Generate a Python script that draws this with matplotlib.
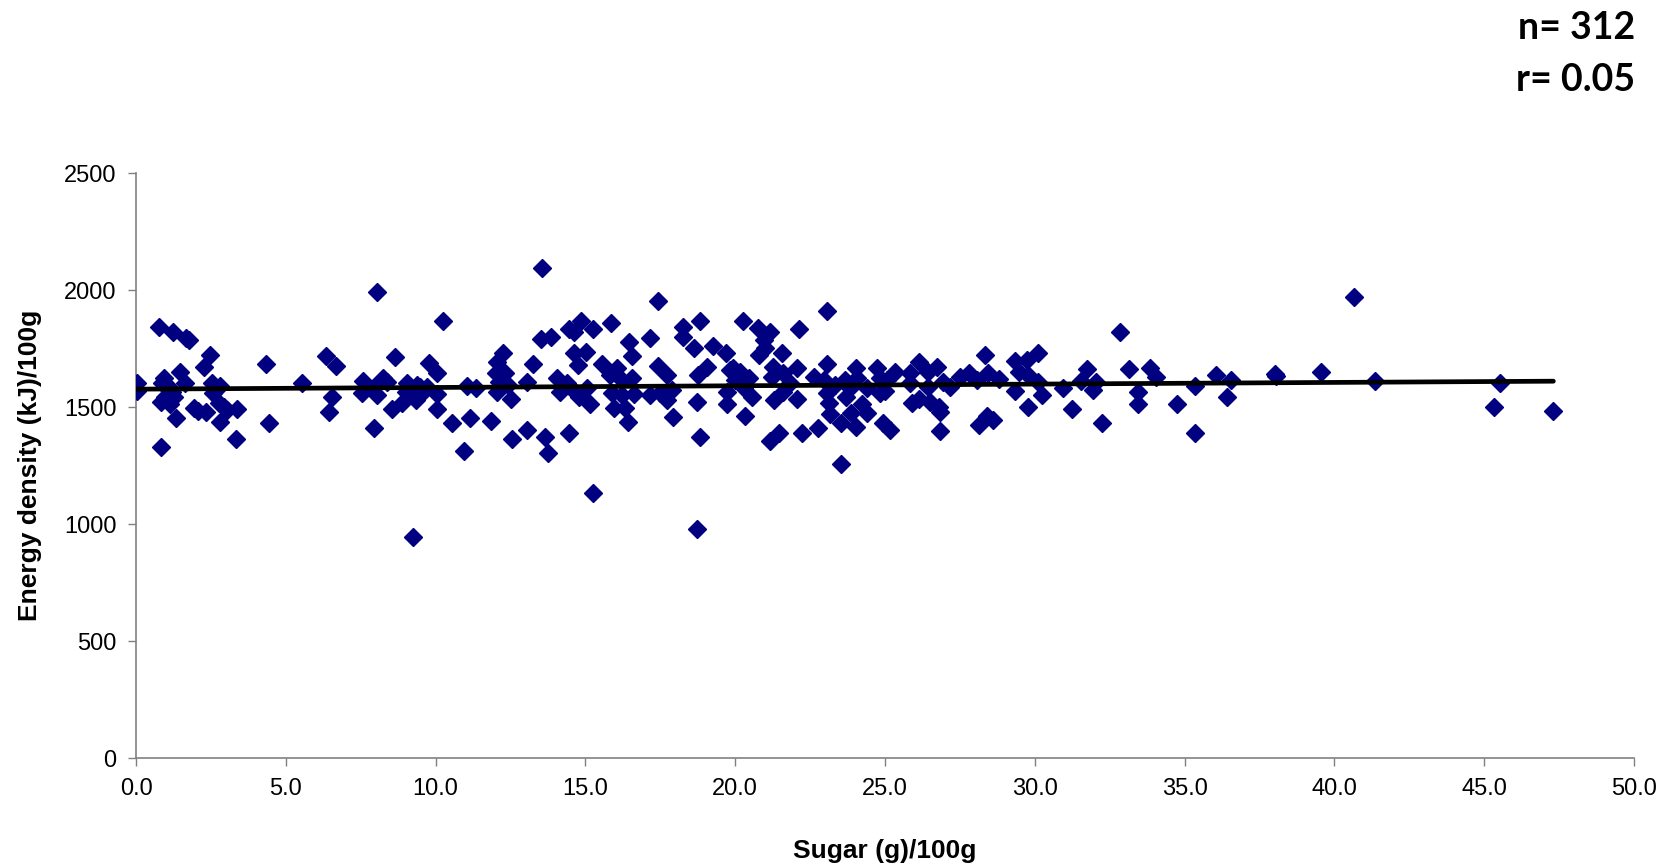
import numpy as np
import matplotlib
matplotlib.use("Agg")
from matplotlib import pyplot as plt

# sugar (g)/100g and energy density (kJ)/100g
sugar = [0.04, 0.04, 0.76, 1.24, 1.67, 1.76, 2.46, 1.46, 2.26, 0.95, 0.87, 1.65, 1.10, 1.21,
         0.82, 0.98, 1.15, 1.26, 1.35, 0.85, 1.93, 2.06, 2.35, 2.54, 2.79, 2.58, 2.76, 2.93,
         3.04, 3.38, 2.80, 3.34, 4.35, 4.45, 5.54, 6.35, 6.66, 6.55, 6.45, 7.57, 7.55, 7.94,
         8.05, 8.25, 8.38, 7.96, 8.05, 8.64, 8.55, 8.88, 9.05, 9.38, 9.00, 9.33, 9.55, 9.25,
         9.77,
         9.49, 10.05, 9.71, 10.05, 10.05, 10.25, 10.55, 10.94, 11.05, 11.36, 11.16, 11.85,
         12.05, 12.25, 12.00, 12.10, 12.33, 12.05, 12.40, 12.52, 12.55, 13.05, 13.25, 13.05,
         13.55, 13.52, 13.85, 13.64, 13.75, 14.05, 14.16, 14.38, 14.44, 14.44, 14.61, 14.86,
         15.25, 14.63, 15.02, 14.74, 14.66, 14.77, 15.05, 15.16, 15.25, 15.55, 15.85, 15.83,
         16.05, 15.89, 15.94, 16.22, 16.33, 16.41, 16.46, 16.55, 16.55, 16.61, 16.22, 17.14,
         17.44, 17.44, 17.74, 17.16, 17.50, 17.72, 17.89, 17.94, 18.25, 18.25, 18.64, 18.83,
         19.06, 18.76, 18.74, 18.83, 18.74, 19.25, 19.70, 19.72, 19.72, 19.84,
         19.94, 20.17, 20.00, 20.45, 20.28, 20.56, 20.33, 20.26, 20.75, 21.15, 20.95, 21.00,
         20.78, 21.56, 22.14, 21.26, 21.22, 21.61, 21.84, 22.06, 21.61, 21.28, 22.06, 21.45,
         21.15, 22.22, 22.75, 23.06, 23.06, 22.64, 22.95, 23.06, 23.12, 23.15, 23.34, 23.67,
         23.70, 23.54, 23.53, 24.04, 24.06, 23.84, 23.86, 24.23, 24.39, 24.04, 24.73, 24.82,
         24.39, 24.82, 25.00, 25.06, 24.95, 25.17, 25.34, 25.82, 25.84, 25.90, 26.15, 26.15,
         26.45, 26.42, 26.51, 26.73, 26.79, 26.84, 26.84, 26.95, 27.17, 27.50, 27.79, 28.06,
         28.34, 28.45, 28.79, 28.40, 28.62, 28.15, 29.34, 29.46, 29.34, 29.73, 29.79, 29.79,
         30.12, 30.12, 30.23, 30.93, 31.23, 31.73, 31.53, 32.05, 31.93, 32.24, 32.85, 33.13,
         33.46, 33.44, 33.85, 34.05, 34.74, 35.35, 35.35, 36.05, 36.54, 36.43, 38.02, 38.05,
         39.54, 40.65, 41.36, 45.53, 45.34, 47.31]
energy = [1605, 1571, 1841, 1823, 1794, 1787, 1721, 1652, 1673, 1623, 1602, 1605, 1588, 1566,
          1524, 1545, 1514, 1545, 1452, 1331, 1498, 1485, 1481, 1605, 1591, 1559, 1516, 1502,
          1487, 1492, 1438, 1362, 1683, 1434, 1605, 1719, 1674, 1542, 1481, 1613, 1562, 1410,
          1993, 1623, 1609, 1588, 1552, 1713, 1491, 1516, 1605, 1595, 1566, 1531, 1559, 947,
          1690,
          1588, 1645, 1588, 1557, 1492, 1868, 1434, 1313, 1592, 1581, 1452, 1442,
          1694, 1733, 1645, 1609, 1645, 1566, 1595, 1535, 1363, 1609, 1683, 1403,
          2093, 1791, 1801, 1374, 1303, 1623, 1566, 1602, 1391, 1833, 1823, 1866,
          1833, 1733, 1737, 1680, 1566, 1545, 1583, 1514, 1132, 1683, 1858, 1637,
          1666, 1559, 1495, 1616, 1495, 1438, 1777, 1720, 1623, 1557, 1552, 1794,
          1954, 1676, 1637, 1552, 1559, 1531, 1573, 1460, 1841, 1801, 1754, 1868,
          1673, 1637, 1521, 1374, 978, 1761, 1733, 1566, 1514, 1659,
          1666, 1652, 1616, 1623, 1581, 1545, 1463, 1866, 1837, 1823, 1787, 1751,
          1723, 1733, 1833, 1673, 1631, 1645, 1602, 1666, 1566, 1531, 1535, 1391,
          1356, 1391, 1413, 1912, 1683, 1631, 1616, 1559, 1516, 1471, 1595, 1616,
          1545, 1434, 1257, 1666, 1623, 1581, 1474, 1514, 1474, 1414, 1666, 1623,
          1581, 1559, 1571, 1616, 1431, 1403, 1652, 1645, 1602, 1516, 1694, 1535,
          1652, 1588, 1524, 1673, 1502, 1481, 1399, 1609, 1588, 1627, 1645, 1616,
          1723, 1645, 1620, 1463, 1446, 1424, 1698, 1652, 1571, 1701, 1637, 1502,
          1733, 1609, 1552, 1583, 1492, 1663, 1613, 1609, 1573, 1431, 1823, 1663,
          1564, 1514, 1666, 1631, 1514, 1592, 1391, 1636, 1615, 1542, 1643, 1634,
          1652, 1972, 1613, 1603, 1502, 1484]

# linear trend line as drawn on the chart (x from 0 to the largest sugar value)
trend_x = [0.0, 47.31]
trend_y = [1577, 1611]

x_ticks = [0, 5, 10, 15, 20, 25, 30, 35, 40, 45, 50]
y_ticks = [0, 500, 1000, 1500, 2000, 2500]

plt.rcParams['font.family'] = ['Liberation Sans', 'DejaVu Sans']

fig = plt.figure(figsize=(16.75, 8.63), dpi=100)
ax = fig.add_axes([0.0812, 0.1212, 0.8943, 0.6783])

ax.plot(sugar, energy, linestyle='none', marker='D', markersize=8.8,
        color='#000080', markeredgecolor='#000080', zorder=3)
ax.plot(trend_x, trend_y, color='black', linewidth=3.4, solid_capstyle='round', zorder=4)

ax.set_xlim(0, 50)
ax.set_ylim(0, 2500)
ax.set_xticks(x_ticks)
ax.set_xticklabels(["%.1f" % v for v in x_ticks])
ax.set_yticks(y_ticks)
ax.tick_params(axis='both', labelsize=17, length=6, width=1, color='#808080', pad=8)
for s in ['top', 'right']:
    ax.spines[s].set_visible(False)
for s in ['left', 'bottom']:
    ax.spines[s].set_color('#808080')
    ax.spines[s].set_linewidth(1.2)

ax.set_xlabel("Sugar (g)/100g", fontsize=19, fontweight='bold', labelpad=28)
ax.set_ylabel("Energy density (kJ)/100g", fontsize=19, fontweight='bold', labelpad=16)

fig.text(0.976, 0.955, "n= 312", ha='right', va='baseline', fontsize=27,
         fontweight='bold', family=['Lato', 'DejaVu Sans'])
fig.text(0.976, 0.895, "r= 0.05", ha='right', va='baseline', fontsize=27,
         fontweight='bold', family=['Lato', 'DejaVu Sans'])

fig.savefig("out.png", dpi=100)
